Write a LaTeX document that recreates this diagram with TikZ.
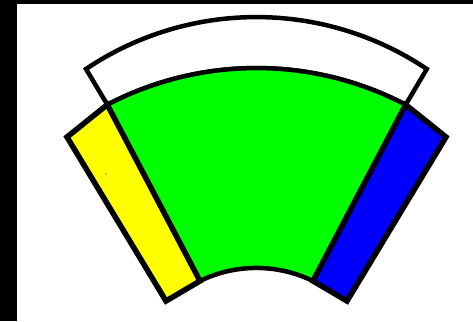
\documentclass[tikz,border=0pt]{standalone}
\usepackage{xcolor}
\usepackage{tikz}
\definecolor{fanwhite}{HTML}{FFFFFF}
\definecolor{fangreen}{HTML}{00FF00}
\definecolor{fanyellow}{HTML}{FFFF00}
\definecolor{fanblue}{HTML}{0000FF}
\tikzset{
  arcband/.style={draw=black, line width=4.5pt, line join=miter},
  sideband/.style={draw=black, line width=5.5pt, line join=miter},
}
\begin{document}
\begin{tikzpicture}[x=1pt, y=1pt]
    % frame
    \fill[black] (0,0) rectangle (473,-321);
    \fill[white] (17,-4) rectangle (473,-321);
    \useasboundingbox (0,0) rectangle (473,-321);
    % corners
    \coordinate (gtl) at (107.3,-104.7);
    \coordinate (gtr) at (405.7,-104.7);
    \coordinate (gbl) at (200,-281);
    \coordinate (gbr) at (313,-281);
    \coordinate (wl) at (86,-69);
    \coordinate (yo1) at (67,-137);
    \coordinate (yo2) at (166,-301);
    \coordinate (bo1) at (446,-137);
    \coordinate (bo2) at (347,-301);
    % top band
    \draw[arcband, fill=fanwhite] (wl) arc[start angle=123.9, end angle=56.1, radius=305.5]
      -- (gtr) arc[start angle=62.4, end angle=117.6, radius=322] -- cycle;
    % middle sector
    \draw[arcband, fill=fangreen] (gtl) arc[start angle=117.6, end angle=62.4, radius=322]
      -- (gbr) arc[start angle=64, end angle=116, radius=129] -- cycle;
    % side bands
    \draw[sideband, fill=fanyellow] (gtl) -- (gbl) -- (yo2) -- (yo1) -- cycle;
    \draw[sideband, fill=fanblue] (gtr) -- (gbr) -- (bo2) -- (bo1) -- cycle;
    \fill[fanblue] (106,-174) circle (0.7);
\end{tikzpicture}
\end{document}
